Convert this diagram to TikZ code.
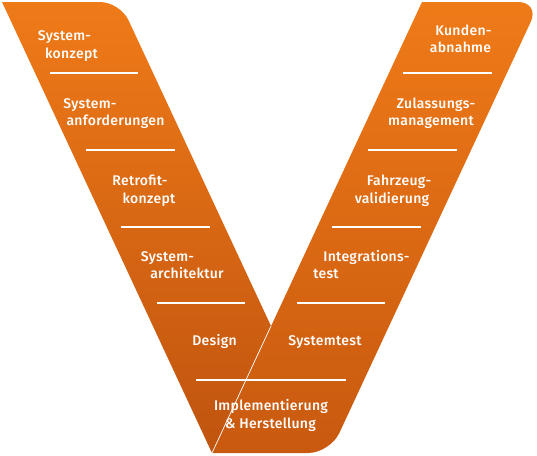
\documentclass[tikz,border=0pt]{standalone}
\usepackage{fontspec}
\setmainfont{Fira Sans}
\newfontfamily\lblfont{Fira Sans Medium}[LetterSpace=2]
\begin{document}
\begin{tikzpicture}[x=1pt,y=-1pt,
  lbl/.style={text=white,font=\lblfont\fontsize{14}{16}\selectfont,inner sep=0pt,text height=10pt,text depth=0pt,anchor=center},
  divider/.style={white,line width=1.6pt}]
\definecolor{otop}{HTML}{EF7A18}
\definecolor{lbot}{HTML}{C0540F}
\definecolor{rbot}{HTML}{C8590F}
\useasboundingbox (0,0) rectangle (537,455);
% arms
\shade[top color=otop,bottom color=lbot]
  (2,2) [rounded corners=20pt] -- (120,2) [sharp corners] -- (271,326) -- (212,453) -- cycle;
\shade[top color=otop,bottom color=rbot]
  (422,2) [rounded corners=22pt] -- (540,2) -- (330,453) [sharp corners] -- (212,453) -- cycle;
\coordinate (notch) at (271,326);
\coordinate (vbot) at (212,453);
\draw[white,line width=0.7pt] (notch) -- (vbot);
% dividers
\foreach \y/\a/\b in {73/50/138,150/86/175,227/121/210,303/157/245,380/196/346,73/403/492,150/368/457,227/332/421,303/297/385}
  {\coordinate (d1) at (\a,\y); \coordinate (d2) at (\b,\y); \draw[divider] (d1) -- (d2);}
% labels left
\node[lbl] (l1a) at (64.5,35) {System-};
\node[lbl] (l1b) at (71.5,53) {konzept};
\node[lbl] (l2a) at (90,103) {System-};
\node[lbl] (l2b) at (115.5,120) {anforderungen};
\node[lbl] (l3a) at (140,180) {Retrofit-};
\node[lbl] (l3b) at (149,198) {konzept};
\node[lbl] (l4a) at (167.5,256) {System-};
\node[lbl] (l4b) at (187,273) {architektur};
\node[lbl] (l5) at (214.5,340) {Design};
% labels right
\node[lbl] (r1a) at (463.5,30) {Kunden-};
\node[lbl] (r1b) at (460.5,47) {abnahme};
\node[lbl] (r2a) at (436,103) {Zulassungs-};
\node[lbl] (r2b) at (431,120) {management};
\node[lbl] (r3a) at (399,180) {Fahrzeug-};
\node[lbl] (r3b) at (392,198) {validierung};
\node[lbl] (r4a) at (366.5,256) {Integrations-};
\node[lbl] (r4b) at (326,273) {test};
\node[lbl] (r5) at (325,340) {Systemtest};
\node[lbl] (b1) at (271,405) {Implementierung};
\node[lbl] (b2) at (270.5,423) {\& Herstellung};
\end{tikzpicture}
\end{document}
